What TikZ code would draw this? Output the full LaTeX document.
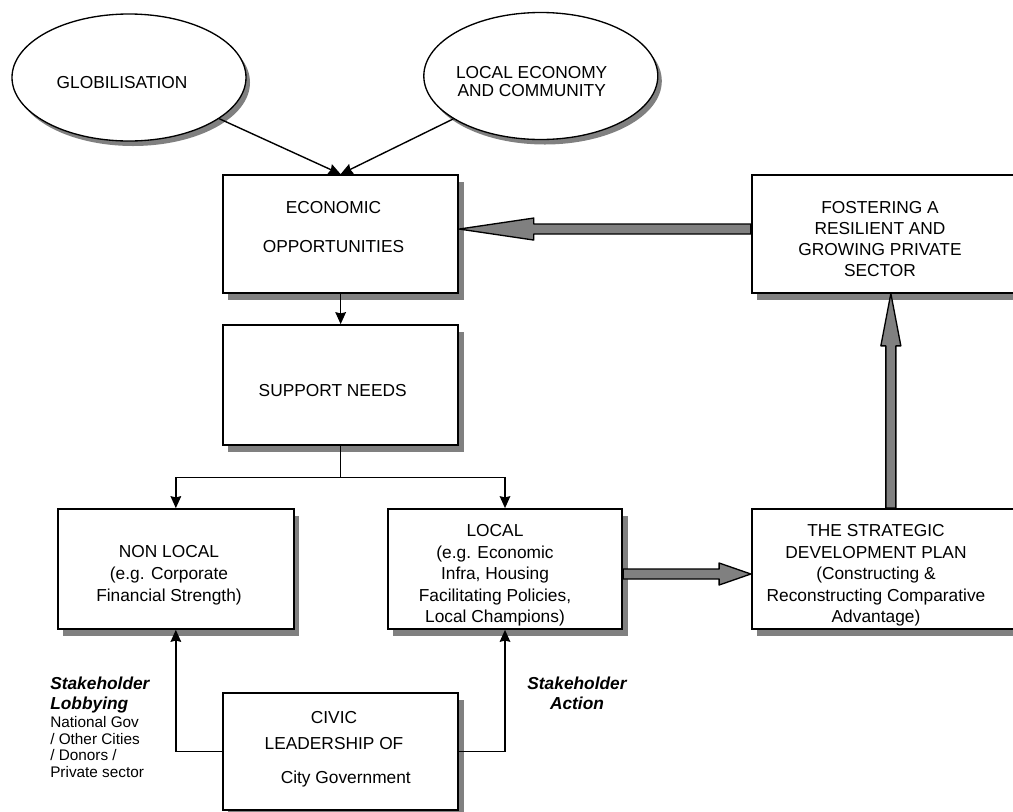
\documentclass[tikz,border=0pt]{standalone}
\usepackage{fontspec}
\setmainfont{Liberation Sans}
\usetikzlibrary{shapes.geometric,shadows,fit,calc,arrows.meta}
\definecolor{shade}{HTML}{808080}

\begin{document}
\begin{tikzpicture}[x=0.75pt,y=-0.75pt,
  box/.style={draw, line width=1.3pt, fill=white, inner sep=0pt,
    general shadow={fill=shade, shadow xshift=4pt, shadow yshift=-5.25pt}},
  oval/.style={ellipse, draw, line width=1pt, fill=white, inner sep=0pt,
    minimum width=175.5pt, minimum height=95.25pt,
    general shadow={fill=shade, shadow xshift=3pt, shadow yshift=-3.75pt}},
  txt/.style={inner sep=0pt, align=center},
  conn/.style={line width=1.05pt, -{Stealth[length=9pt,width=8pt,inset=1pt]}},
  block/.style={fill=shade, draw=black, line width=1pt, line join=round},
]
\useasboundingbox (0,0) rectangle (1013,811);
\fill[white] (0,0) rectangle (1013,811);
\clip (0,0) rectangle (1013,811);

% driving forces
\node[oval] (glob) at (129,77.5) {};
\node[oval] (locec) at (540.8,76) {};

% boxes
\node[box, fit={(223,175) (458.3,292.7)}] (eco) {};
\node[box, fit={(223,325) (458.3,445)}] (sup) {};
\node[box, fit={(57.7,509) (294,629)}] (nonl) {};
\node[box, fit={(387.7,509) (622.3,629)}] (loc) {};
\node[box, fit={(751.7,509) (1030,629)}] (sdp) {};
\node[box, fit={(751.7,175) (1030,292.7)}] (fost) {};
\node[box, fit={(223,692.7) (458.3,810)}] (civ) {};

% texts
\node[txt, font=\fontsize{13}{16}\selectfont] (globtxt) at (122,83) {GLOBILISATION};
\node[txt, font=\fontsize{13}{13.5}\selectfont] (locectxt) at (531.7,81.7) {LOCAL ECONOMY\\AND COMMUNITY};
\node[txt, font=\fontsize{13}{29.5}\selectfont] (ecotxt) at (333.5,227) {ECONOMIC\\OPPORTUNITIES};
\node[txt, font=\fontsize{13}{16}\selectfont] (suptxt) at (332.7,390.7) {SUPPORT NEEDS};
\node[txt, font=\fontsize{13}{15.8}\selectfont] (fosttxt) at (880,239.3) {FOSTERING A\\RESILIENT AND\\GROWING PRIVATE\\SECTOR};
\node[txt, font=\fontsize{13}{16.5}\selectfont] (nonltxt) at (169,574.8) {NON LOCAL\\(e.g. Corporate\\Financial Strength)};
\node[txt, font=\fontsize{13}{16.1}\selectfont] (loctxt) at (495,575.5) {LOCAL\\(e.g. Economic\\Infra, Housing\\Facilitating Policies,\\Local Champions)};
\node[txt, font=\fontsize{13}{16.1}\selectfont] (sdptxt) at (876,575.5) {THE STRATEGIC\\DEVELOPMENT PLAN\\(Constructing \&\\Reconstructing Comparative\\Advantage)};
\node[txt, font=\fontsize{13}{19.5}\selectfont] (civtxt) at (334,731) {CIVIC\\LEADERSHIP OF};
\node[txt, font=\fontsize{13}{16}\selectfont, anchor=base] (citytxt) at (345.8,783.2) {City Government};

% side labels
\node[txt, align=left, anchor=north west, font=\fontsize{13}{15}\selectfont\bfseries\itshape] (lobbyhead) at (50,677) {Stakeholder\\Lobbying};
\node[txt, align=left, anchor=north west, font=\fontsize{11.5}{12.5}\selectfont] (lobbywho) at (50,716.2) {National Gov\\/ Other Cities\\/ Donors /\\Private sector};
\node[txt, font=\fontsize{13}{15}\selectfont\bfseries\itshape] (actionhead) at (577,693.1) {Stakeholder\\Action};

% thin connectors
\draw[conn] (glob) -- (eco.north);
\draw[conn] (locec) -- (eco.north);
\draw[conn] (eco.south) -- (sup.north);
\coordinate (split) at ($(sup.south)+(0,31.7)$);
\draw[conn] (sup.south) -- (split) -| (nonl.north);
\draw[conn] (split) -| (loc.north);
\draw[conn] (civ.west) -| (nonl.south);
\draw[conn] (civ.east) -| (loc.south);

% block arrows
\coordinate (fa-tip) at ($(eco.east)+(0,-4.8)$);
\coordinate (fa-tail) at (fost.west |- fa-tip);
\filldraw[block] (fa-tip) -- ($(fa-tip)+(74.6,-11)$) -- ($(fa-tip)+(74.6,-5)$)
  -- ($(fa-tail)+(0,-5)$) -- ($(fa-tail)+(0,5)$) -- ($(fa-tip)+(74.6,5)$)
  -- ($(fa-tip)+(74.6,11)$) -- cycle;

\coordinate (sa-tail) at ($(loc.east)+(0,5)$);
\coordinate (sa-tip) at (sdp.west |- sa-tail);
\filldraw[block] ($(sa-tail)+(0,-5)$) -- ($(sa-tip)+(-31.7,-5)$) -- ($(sa-tip)+(-31.7,-11)$)
  -- (sa-tip) -- ($(sa-tip)+(-31.7,11)$) -- ($(sa-tip)+(-31.7,5)$)
  -- ($(sa-tail)+(0,5)$) -- cycle;

\coordinate (va-tail) at (sdp.north);
\coordinate (va-tip) at (fost.south);
\filldraw[block] ($(va-tail)+(-5,0)$) -- ($(va-tip)+(-5,52.3)$) -- ($(va-tip)+(-10,52.3)$)
  -- (va-tip) -- ($(va-tip)+(10,52.3)$) -- ($(va-tip)+(5,52.3)$)
  -- ($(va-tail)+(5,0)$) -- cycle;
\end{tikzpicture}
\end{document}
